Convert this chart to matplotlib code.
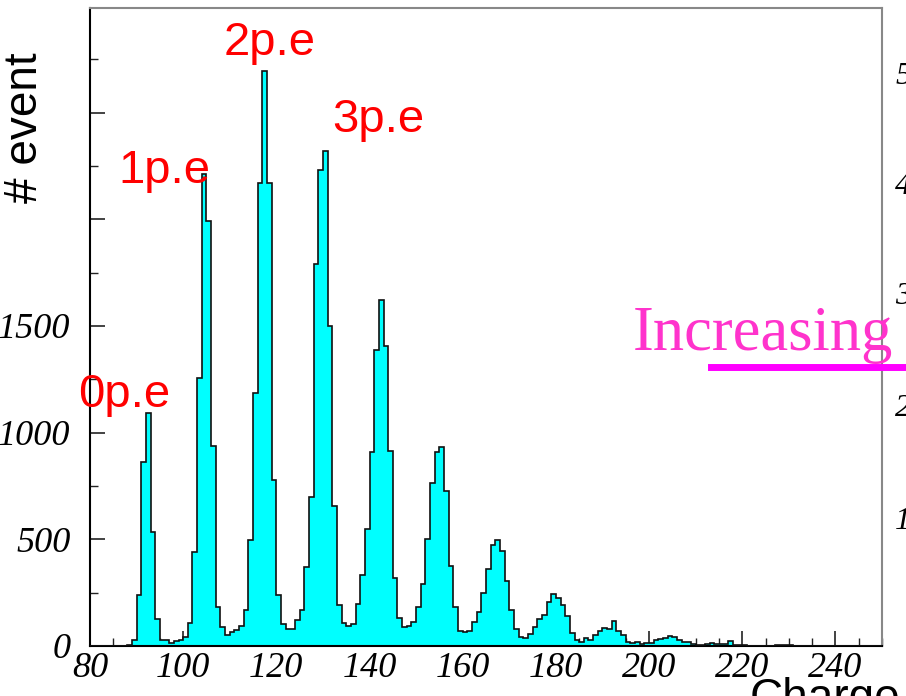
import numpy as np
import matplotlib
matplotlib.use("Agg")
import matplotlib.pyplot as plt
from matplotlib.lines import Line2D
from matplotlib.ticker import MultipleLocator, FixedLocator

# ---- data: charge histogram, 1-unit bins from 80 to 250 ----
bin_edges = np.arange(80, 251, 1)
counts = [
    0, 0, 0, 0, 0, 0, 0, 0,            # 80-87
    4, 29, 238, 861, 1092, 534, 128, 28, 28, 15,       # 88-97
    22, 30, 44, 106, 441, 1255, 2212, 1994, 937, 181,  # 98-107
    88, 52, 64, 77, 93, 168, 497, 1186, 2172, 2695,    # 108-117
    2172, 777, 237, 104, 79, 79, 123, 171, 368, 699,   # 118-127
    1790, 2230, 2318, 1498, 655, 190, 108, 93, 103, 195,  # 128-137
    332, 550, 911, 1386, 1620, 1407, 916, 319, 132, 90,   # 138-147
    93, 114, 181, 290, 500, 765, 908, 932, 726, 377,      # 148-157
    181, 70, 64, 70, 111, 160, 248, 363, 472, 495,        # 158-167
    445, 303, 171, 79, 40, 36, 54, 87, 126, 145,          # 168-177
    207, 246, 225, 192, 142, 59, 27, 17, 36, 30,          # 178-187
    50, 69, 83, 78, 118, 70, 50, 20, 15, 18,              # 188-197
    9, 12, 16, 28, 31, 37, 46, 41, 28, 20,                # 198-207
    17, 8, 6, 7, 10, 12, 9, 9, 8, 25,                     # 208-217
    3, 3, 3, 2, 1, 2, 2, 2, 2, 3,                         # 218-227
    5, 5, 3, 2, 2, 1, 1, 1, 0, 1,                         # 228-237
    1, 0, 2, 2, 1, 0, 0, 0, 0, 0,                         # 238-247
    0, 0,                                                 # 248-249
]

x_ticks = [80, 100, 120, 140, 160, 180, 200, 220, 240]
x_ticklabels = ["80", "100", "120", "140", "160", "180", "200", "220", "240"]
y_ticks = [0, 500, 1000, 1500, 2000, 2500]
y_ticklabels = ["0", "500", "1000", "1500", "", ""]

peak_labels = ["0p.e", "1p.e", "2p.e", "3p.e"]
peak_label_pos = [(77.4, 1118), (86.0, 2170), (108.6, 2772), (131.9, 2411)]

side_digits = ["5", "4", "3", "2", "1"]

# ---- figure ----
W, H = 906, 696
fig = plt.figure(figsize=(W / 100, H / 100), dpi=100)
ax = fig.add_axes([90 / W, (H - 646) / H, (882 - 90) / W, (646 - 8) / H])

cnt = np.array(counts, dtype=float)
ax.bar(bin_edges[:-1], cnt, width=1.0, align="edge", color="#00ffff",
       linewidth=0, zorder=2)
ax.stairs(cnt, bin_edges, color="#111111", linewidth=1.2, zorder=3)

ax.set_xlim(80, 250)
ax.set_ylim(0, 2990)

serif = "Liberation Serif"
sans = "Liberation Sans"

ax.xaxis.set_major_locator(FixedLocator(x_ticks))
ax.set_xticklabels(x_ticklabels, fontfamily=serif, fontstyle="italic", fontsize=26)
ax.xaxis.set_minor_locator(MultipleLocator(5))
ax.yaxis.set_major_locator(FixedLocator(y_ticks))
ax.set_yticklabels(y_ticklabels, fontfamily=serif, fontstyle="italic", fontsize=26)
ax.yaxis.set_minor_locator(MultipleLocator(250))

ax.tick_params(axis="both", which="major", direction="in", length=11, width=1.2,
               color="#222222")
ax.tick_params(axis="both", which="minor", direction="in", length=5.5, width=1.0,
               color="#222222")
ax.tick_params(axis="x", which="major", pad=4)
ax.tick_params(axis="y", which="major", pad=14)

for side in ["left", "bottom"]:
    ax.spines[side].set_color("black")
    ax.spines[side].set_linewidth(1.5)
for side in ["top", "right"]:
    ax.spines[side].set_color("#888888")
    ax.spines[side].set_linewidth(1.5)

# peak annotations
for lab, (xx, yy) in zip(peak_labels, peak_label_pos):
    ax.text(xx, yy, lab, color="red", fontfamily=sans, fontsize=34,
            ha="left", va="baseline", clip_on=False, zorder=5)

# y-axis label
fig.text(25 / W, (H - 128) / H, "# event", rotation=90, fontfamily=sans,
         fontsize=33, ha="center", va="center", color="black")

# partially visible x-axis title at the bottom
fig.text(750 / W, (H - 711) / H, "Charge", fontfamily=sans, fontsize=33,
         ha="left", va="baseline", color="black")

# "Increasing" text with magenta underline (overlay from adjacent panel)
fig.text(633 / W, (H - 350) / H, "Increasing", fontfamily=serif, fontsize=45,
         color="#ff33cc", ha="left", va="baseline")
fig.add_artist(Line2D([711 / W, 1.0], [(H - 367) / H, (H - 367) / H],
                      color="#ff00ff", linewidth=5, transform=fig.transFigure))

# partially visible tick labels from the neighbouring panel
for d, yb in zip(side_digits, [84, 194, 304, 416, 529]):
    fig.text(895 / W, (H - yb) / H, d, fontfamily=serif, fontstyle="italic",
             fontsize=23, ha="left", va="baseline", color="black")

fig.savefig("out.png", dpi=100)
